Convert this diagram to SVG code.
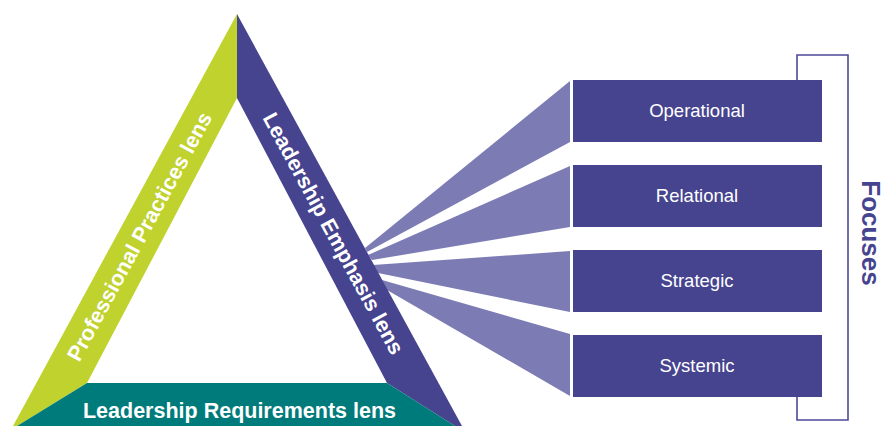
<svg xmlns="http://www.w3.org/2000/svg" width="885" height="426" viewBox="0 0 885 426">
<style>
.lens{font-family:"Liberation Sans",Arial,sans-serif;font-weight:bold;font-size:21.5px;fill:#fff}
.box{fill:#46448F}
.fan{fill:#7C7BB4}
.lbl{font-family:"Liberation Sans",Arial,sans-serif;font-size:18.5px;fill:#fff;text-anchor:middle}
</style>
<rect width="885" height="426" fill="#fff"/>
<g id="connectors">
<polygon class="fan" points="570,81 570,142 367,252 365,248"/>
<polygon class="fan" points="570,166 570,227 372,260 368,255"/>
<polygon class="fan" points="570,251 570,312 378,273 373,265"/>
<polygon class="fan" points="570,334 570,396 387,290 382,280"/>
<path d="M797,80 V55 H848 V420 H797 V397" fill="none" stroke="#4B4A99" stroke-width="1.6"/>
</g>
<g id="professional-practices">
<polygon points="237,14 237,98 87,383 17,426 13,426" fill="#C0D22D"/>
<text class="lens" text-anchor="middle" transform="translate(146,240) rotate(-61.5)">Professional Practices lens</text>
</g>
<g id="leadership-emphasis">
<polygon points="237,14 462,426 455,426 387,383 237,98" fill="#46438F"/>
<text class="lens" text-anchor="middle" transform="translate(327,237) rotate(61.5)">Leadership Emphasis lens</text>
</g>
<g id="leadership-requirements">
<polygon points="87,383 387,383 455,426 17,426" fill="#007B7B"/>
<text class="lens" text-anchor="middle" x="239.5" y="418">Leadership Requirements lens</text>
</g>
<g id="operational"><rect class="box" x="573" y="80" width="249" height="62"/><text class="lbl" x="697" y="117">Operational</text></g>
<g id="relational"><rect class="box" x="573" y="165" width="249" height="62"/><text class="lbl" x="697" y="202">Relational</text></g>
<g id="strategic"><rect class="box" x="573" y="250" width="249" height="62"/><text class="lbl" x="697" y="287">Strategic</text></g>
<g id="systemic"><rect class="box" x="573" y="335" width="249" height="62"/><text class="lbl" x="697" y="372">Systemic</text></g>
<g id="focuses">
<text font-family="Liberation Sans, Arial, sans-serif" font-weight="bold" font-size="26" fill="#46448F" text-anchor="middle" transform="translate(862,233) rotate(90)">Focuses</text>
</g>
</svg>
